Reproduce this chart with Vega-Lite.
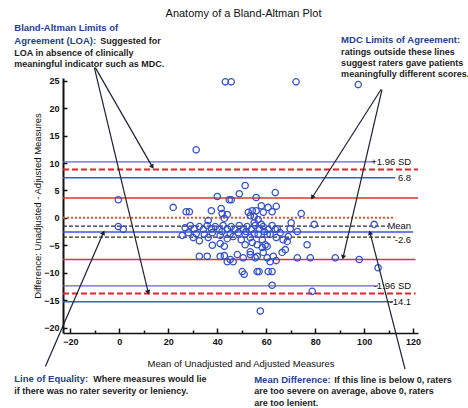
{
  "$schema": "https://vega.github.io/schema/vega-lite/v6.json",
  "width": 355,
  "height": 255,
  "autosize": {"type": "none"},
  "padding": {"left": 63, "top": 78, "right": 50, "bottom": 75},
  "background": "white",
  "config": {"view": {"stroke": null}, "font": "Liberation Sans"},
  "title": {"text": "Anatomy of a Bland-Altman Plot", "fontSize": 11, "fontWeight": "normal", "font": "Liberation Sans", "color": "#111111", "anchor": "middle", "offset": 4, "dx": 3},
  "datasets": {
    "points": [
      {"x": 43.3, "y": 24.8}, {"x": 45.7, "y": 24.8}, {"x": 72.2, "y": 24.8}, {"x": 97.6, "y": 24.3}, {"x": 31.4, "y": 12.4},
      {"x": -0.4, "y": 3.3}, {"x": 22.0, "y": 1.9}, {"x": 27.3, "y": 1.1}, {"x": 28.6, "y": 1.1}, {"x": 37.6, "y": 1.3},
      {"x": 40.0, "y": 3.9}, {"x": 44.9, "y": 3.3}, {"x": 45.7, "y": 3.3}, {"x": 49.0, "y": 4.4}, {"x": 51.4, "y": 5.9},
      {"x": 55.9, "y": 3.7}, {"x": 63.7, "y": 4.6}, {"x": 41.6, "y": 1.7}, {"x": 42.0, "y": 0.8}, {"x": 44.1, "y": 0.6},
      {"x": 42.9, "y": -0.1}, {"x": 36.3, "y": -0.5}, {"x": 52.7, "y": 1.0}, {"x": 54.3, "y": 1.3}, {"x": 55.9, "y": 1.3},
      {"x": 53.5, "y": 0.4}, {"x": 55.1, "y": 0.2}, {"x": 56.7, "y": -0.3}, {"x": 58.0, "y": 2.2}, {"x": 60.8, "y": 1.9},
      {"x": 64.1, "y": 2.1}, {"x": 58.8, "y": 1.0}, {"x": 62.4, "y": 1.1}, {"x": 74.3, "y": 0.8}, {"x": 70.2, "y": -0.9},
      {"x": 79.6, "y": -1.2}, {"x": 104.1, "y": -1.2}, {"x": -0.4, "y": -1.6}, {"x": 1.6, "y": -2.1}, {"x": 25.7, "y": -3.2},
      {"x": 72.7, "y": -2.5}, {"x": 69.0, "y": -3.4},
      {"x": 32.7, "y": -4.2}, {"x": 38.0, "y": -5.0}, {"x": 41.2, "y": -4.7}, {"x": 42.9, "y": -5.2}, {"x": 32.7, "y": -7.0},
      {"x": 35.9, "y": -7.0}, {"x": 41.2, "y": -7.0}, {"x": 42.9, "y": -6.9}, {"x": 44.1, "y": -8.0}, {"x": 45.3, "y": -7.6},
      {"x": 46.5, "y": -8.0}, {"x": 48.2, "y": -6.7}, {"x": 50.6, "y": -7.3}, {"x": 53.5, "y": -6.7}, {"x": 56.3, "y": -7.0},
      {"x": 58.8, "y": -6.3}, {"x": 60.4, "y": -7.3}, {"x": 61.6, "y": -8.0}, {"x": 64.1, "y": -7.8}, {"x": 62.9, "y": -7.0},
      {"x": 66.5, "y": -6.3}, {"x": 67.8, "y": -5.8}, {"x": 68.6, "y": -4.3}, {"x": 66.9, "y": -4.0}, {"x": 76.7, "y": -4.9},
      {"x": 72.7, "y": -7.3}, {"x": 78.0, "y": -7.3}, {"x": 88.2, "y": -7.3}, {"x": 98.0, "y": -7.6}, {"x": 105.7, "y": -9.1},
      {"x": 50.2, "y": -9.8}, {"x": 51.0, "y": -10.3}, {"x": 56.3, "y": -9.8}, {"x": 57.1, "y": -9.8}, {"x": 60.8, "y": -9.8},
      {"x": 62.4, "y": -9.8}, {"x": 62.4, "y": -12.3}, {"x": 78.8, "y": -13.4}, {"x": 57.6, "y": -17.0},
      {"x": 51.4, "y": -4.9}, {"x": 54.3, "y": -4.5}, {"x": 56.3, "y": -4.9}, {"x": 59.6, "y": -4.9}, {"x": 53.5, "y": -6.2},
      {"x": 58.4, "y": -5.4}, {"x": 60.4, "y": -5.2}, {"x": 55.5, "y": -7.3}, {"x": 51.4, "y": -3.0}, {"x": 56.7, "y": -3.0},
      {"x": 60.4, "y": -3.0}, {"x": 63.7, "y": -2.1}, {"x": 55.1, "y": -0.9}, {"x": 58.0, "y": -1.2},
      {"x": 26.9, "y": -1.8}, {"x": 29.0, "y": -1.4}, {"x": 30.6, "y": -2.0}, {"x": 32.7, "y": -1.6}, {"x": 34.3, "y": -2.1},
      {"x": 35.9, "y": -1.4}, {"x": 37.6, "y": -2.0}, {"x": 39.2, "y": -1.6}, {"x": 40.8, "y": -2.1}, {"x": 42.4, "y": -1.4},
      {"x": 44.1, "y": -2.0}, {"x": 45.7, "y": -1.6}, {"x": 47.3, "y": -2.1}, {"x": 49.0, "y": -1.4}, {"x": 50.6, "y": -2.0},
      {"x": 52.2, "y": -1.6}, {"x": 53.9, "y": -2.1}, {"x": 55.5, "y": -1.4}, {"x": 57.1, "y": -2.0}, {"x": 58.8, "y": -1.6},
      {"x": 60.8, "y": -2.1}, {"x": 62.4, "y": -1.4}, {"x": 64.5, "y": -2.0},
      {"x": 28.2, "y": -2.7}, {"x": 31.4, "y": -2.9}, {"x": 34.7, "y": -3.0}, {"x": 38.0, "y": -2.7}, {"x": 42.0, "y": -2.5},
      {"x": 45.3, "y": -2.9}, {"x": 48.6, "y": -2.7}, {"x": 51.8, "y": -2.5}, {"x": 55.1, "y": -2.9}, {"x": 59.2, "y": -2.5},
      {"x": 61.6, "y": -3.0}, {"x": 65.7, "y": -2.7},
      {"x": 30.2, "y": -3.6}, {"x": 36.3, "y": -3.6}, {"x": 41.2, "y": -3.2}, {"x": 44.1, "y": -3.8}, {"x": 46.5, "y": -3.4},
      {"x": 49.8, "y": -4.0}, {"x": 53.5, "y": -3.6}, {"x": 58.4, "y": -4.0}, {"x": 64.1, "y": -3.6}, {"x": 69.8, "y": -2.0}
    ],
    "lines": [
      {"y": 10.2, "x": -23, "x2": 104.5, "type": "sd"},
      {"y": 8.8, "x": -23, "x2": 122, "type": "loa"},
      {"y": 7.3, "x": -23, "x2": 112.7, "type": "limit"},
      {"y": 3.6, "x": -23, "x2": 122, "type": "mdc"},
      {"y": 0, "x": -23, "x2": 112.7, "type": "zero"},
      {"y": -1.5, "x": -23, "x2": 109.8, "type": "dash"},
      {"y": -2.6, "x": -23, "x2": 120, "type": "limit"},
      {"y": -3.5, "x": -23, "x2": 112.7, "type": "dash"},
      {"y": -7.6, "x": -23, "x2": 121, "type": "mdc"},
      {"y": -12.4, "x": -23, "x2": 105.7, "type": "sd"},
      {"y": -13.8, "x": -23, "x2": 121, "type": "loa"},
      {"y": -15.3, "x": -23, "x2": 111.8, "type": "limit"}
    ],
    "labels": [
      {"x": 119.2, "y": 10.25, "text": "+1.96 SD"},
      {"x": 119.2, "y": 7.3, "text": "6.8"},
      {"x": 119.2, "y": -1.4, "text": "Mean"},
      {"x": 119.2, "y": -4.0, "text": "-2.6"},
      {"x": 119.2, "y": -12.5, "text": "-1.96 SD"},
      {"x": 119.2, "y": -15.4, "text": "-14.1"}
    ],
    "arrows": [
      {"id": 1, "x": -9.8, "y": 27.4, "x2": 13.5, "y2": 9.3},
      {"id": 2, "x": -10.2, "y": 27.4, "x2": 11.8, "y2": -13.6},
      {"id": 3, "x": 106.9, "y": 23.4, "x2": 78.8, "y2": 3.7},
      {"id": 4, "x": 107.3, "y": 23.4, "x2": 91.4, "y2": -7.2},
      {"id": 5, "x": -30.2, "y": -27.1, "x2": -6.5, "y2": -2.7},
      {"id": 6, "x": 116.7, "y": -27.6, "x2": 102.4, "y2": -2.7}
    ],
    "notes": [
      {"x": -42.9, "y": 34.6, "text": "Bland-Altman Limits of", "role": "head"},
      {"x": -42.9, "y": 32.3, "text": "Agreement (LOA):", "role": "head"},
      {"x": -7.8, "y": 32.3, "text": "Suggested for", "role": "body"},
      {"x": -42.9, "y": 30.1, "text": "LOA in absence of clinically", "role": "body"},
      {"x": -42.9, "y": 28.1, "text": "meaningful indicator such as MDC.", "role": "body"},
      {"x": 90.6, "y": 32.5, "text": "MDC Limits of Agreement:", "role": "head"},
      {"x": 90.6, "y": 30.2, "text": "ratings outside these lines", "role": "body"},
      {"x": 90.6, "y": 28.2, "text": "suggest raters gave patients", "role": "body"},
      {"x": 90.6, "y": 26.3, "text": "meaningfully different scores.", "role": "body"},
      {"x": -42.9, "y": -29.3, "text": "Line of Equality:", "role": "head"},
      {"x": -10.6, "y": -29.3, "text": "Where measures would lie", "role": "body"},
      {"x": -42.9, "y": -31.6, "text": "if there was no rater severity or leniency.", "role": "body"},
      {"x": 55.1, "y": -29.6, "text": "Mean Difference:", "role": "head"},
      {"x": 87.8, "y": -29.6, "text": "If this line is below 0, raters", "role": "body"},
      {"x": 55.1, "y": -31.6, "text": "are too severe on average, above 0, raters", "role": "body"},
      {"x": 55.1, "y": -33.8, "text": "are too lenient.", "role": "body"}
    ]
  },
  "encoding": {
    "x": {
      "field": "x", "type": "quantitative",
      "scale": {"domain": [-23, 122], "nice": false, "zero": false},
      "axis": {
        "values": [-20, -10, 0, 10, 20, 30, 40, 50, 60, 70, 80, 90, 100, 110, 120],
        "labelExpr": "datum.value % 20 === 0 ? datum.label : ''",
        "tickSize": {"condition": {"test": "datum.value % 20 === 0", "value": -5}, "value": -3},
        "tickWidth": 1.5, "tickColor": "#111111",
        "domainColor": "#111111", "domainWidth": 1.6,
        "labelPadding": 9, "labelFontSize": 9, "labelFontWeight": "bold", "labelColor": "#111111",
        "labelFlush": false, "labelOverlap": false, "grid": false,
        "title": "Mean of Unadjusted and Adjusted Measures",
        "titleFontSize": 9.5, "titleFontWeight": "normal", "titleColor": "#111111", "titlePadding": 10
      }
    },
    "y": {
      "field": "y", "type": "quantitative",
      "scale": {"domain": [-21, 25.5], "nice": false, "zero": false},
      "axis": {
        "values": [-20, -15, -10, -5, 0, 5, 10, 15, 20, 25],
        "tickSize": -4, "tickWidth": 1.5, "tickColor": "#111111",
        "domainColor": "#111111", "domainWidth": 2,
        "labelPadding": 8, "labelFontSize": 9, "labelFontWeight": "bold", "labelColor": "#111111",
        "labelFlush": false, "labelOverlap": false, "grid": false,
        "title": "Difference: Unadjusted - Adjusted Measures",
        "titleFontSize": 9.5, "titleFontWeight": "normal", "titleColor": "#111111", "titlePadding": 1
      }
    }
  },
  "layer": [
    {"data": {"name": "lines"}, "transform": [{"filter": "datum.type === 'sd'"}],
     "mark": {"type": "rule", "color": "#6a5ed8", "strokeWidth": 1.4}, "encoding": {"x2": {"field": "x2"}}},
    {"data": {"name": "lines"}, "transform": [{"filter": "datum.type === 'loa'"}],
     "mark": {"type": "rule", "color": "#e3242b", "strokeWidth": 2, "strokeDash": [6, 3]}, "encoding": {"x2": {"field": "x2"}}},
    {"data": {"name": "lines"}, "transform": [{"filter": "datum.type === 'limit'"}],
     "mark": {"type": "rule", "color": "#3d58d4", "strokeWidth": 1.5}, "encoding": {"x2": {"field": "x2"}}},
    {"data": {"name": "lines"}, "transform": [{"filter": "datum.type === 'mdc'"}],
     "mark": {"type": "rule", "color": "#e6332a", "strokeWidth": 1.5}, "encoding": {"x2": {"field": "x2"}}},
    {"data": {"name": "lines"}, "transform": [{"filter": "datum.type === 'zero'"}],
     "mark": {"type": "rule", "color": "#f0522a", "strokeWidth": 2, "strokeDash": [2, 2]}, "encoding": {"x2": {"field": "x2"}}},
    {"data": {"name": "lines"}, "transform": [{"filter": "datum.type === 'dash'"}],
     "mark": {"type": "rule", "color": "#2e2e22", "strokeWidth": 1.3, "strokeDash": [4, 2]}, "encoding": {"x2": {"field": "x2"}}},
    {"data": {"name": "points"},
     "mark": {"type": "point", "shape": "circle", "filled": false, "stroke": "#3552cc", "strokeWidth": 1.3, "size": 40, "opacity": 1}},
    {"data": {"name": "labels"},
     "mark": {"type": "text", "align": "right", "baseline": "middle", "fontSize": 9.5, "color": "#111111", "font": "Liberation Sans"},
     "encoding": {"text": {"field": "text"}}},
    {"data": {"name": "arrows"},
     "mark": {"type": "rule", "color": "#1b2130", "strokeWidth": 1.2, "clip": false},
     "encoding": {"x2": {"field": "x2"}, "y2": {"field": "y2"}}},
    {"data": {"name": "arrows"}, "transform": [{"filter": "datum.id === 1"}],
     "mark": {"type": "point", "shape": "triangle-up", "filled": true, "color": "#1b2130", "size": 28, "angle": 150, "opacity": 1},
     "encoding": {"x": {"field": "x2", "type": "quantitative"}, "y": {"field": "y2", "type": "quantitative"}}},
    {"data": {"name": "arrows"}, "transform": [{"filter": "datum.id === 2"}],
     "mark": {"type": "point", "shape": "triangle-up", "filled": true, "color": "#1b2130", "size": 28, "angle": 166.5, "opacity": 1},
     "encoding": {"x": {"field": "x2", "type": "quantitative"}, "y": {"field": "y2", "type": "quantitative"}}},
    {"data": {"name": "arrows"}, "transform": [{"filter": "datum.id === 3"}],
     "mark": {"type": "point", "shape": "triangle-up", "filled": true, "color": "#1b2130", "size": 28, "angle": 212, "opacity": 1},
     "encoding": {"x": {"field": "x2", "type": "quantitative"}, "y": {"field": "y2", "type": "quantitative"}}},
    {"data": {"name": "arrows"}, "transform": [{"filter": "datum.id === 4"}],
     "mark": {"type": "point", "shape": "triangle-up", "filled": true, "color": "#1b2130", "size": 28, "angle": 193, "opacity": 1},
     "encoding": {"x": {"field": "x2", "type": "quantitative"}, "y": {"field": "y2", "type": "quantitative"}}},
    {"data": {"name": "arrows"}, "transform": [{"filter": "datum.id === 5"}],
     "mark": {"type": "point", "shape": "triangle-up", "filled": true, "color": "#1b2130", "size": 28, "angle": 23.4, "opacity": 1},
     "encoding": {"x": {"field": "x2", "type": "quantitative"}, "y": {"field": "y2", "type": "quantitative"}}},
    {"data": {"name": "arrows"}, "transform": [{"filter": "datum.id === 6"}],
     "mark": {"type": "point", "shape": "triangle-up", "filled": true, "color": "#1b2130", "size": 28, "angle": 345.7, "opacity": 1},
     "encoding": {"x": {"field": "x2", "type": "quantitative"}, "y": {"field": "y2", "type": "quantitative"}}},
    {"data": {"name": "notes"}, "transform": [{"filter": "datum.role === 'head'"}],
     "mark": {"type": "text", "align": "left", "baseline": "middle", "fontSize": 9.5, "fontWeight": "bold", "font": "Liberation Sans", "color": "#23428f"},
     "encoding": {"text": {"field": "text"}}},
    {"data": {"name": "notes"}, "transform": [{"filter": "datum.role === 'body'"}],
     "mark": {"type": "text", "align": "left", "baseline": "middle", "fontSize": 9, "fontWeight": "bold", "font": "Liberation Sans", "color": "#1c1c1c"},
     "encoding": {"text": {"field": "text"}}}
  ]
}
